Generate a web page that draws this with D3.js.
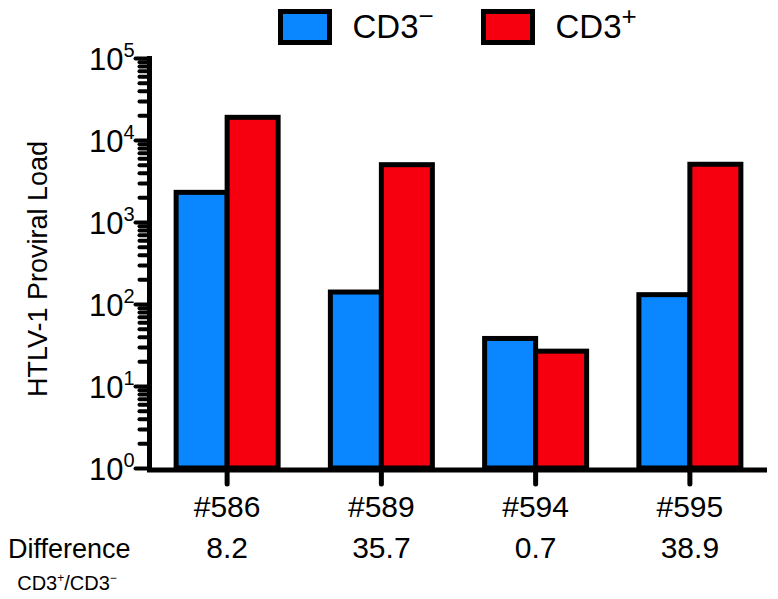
<!DOCTYPE html>
<html>
<head>
<meta charset="utf-8">
<script src="https://cdn.jsdelivr.net/npm/d3@7"></script>
<style>
  body { margin: 0; background: #fff; }
  svg text { font-family: "Liberation Sans", Arial, Helvetica, sans-serif; fill: #000; }
</style>
</head>
<body>
<div id="chart"></div>
<script>
////////////////////////////// DATA ////////////////////////////////////

const samples = ["#586", "#589", "#594", "#595"];
const cd3Neg = [2300, 140, 38, 130];
const cd3Pos = [18900, 5000, 26.6, 5060];
const differences = ["8.2", "35.7", "0.7", "38.9"];
const majorTicks = [1, 10, 100, 1000, 10000, 100000];

////////////////////////////// SET UP ////////////////////////////////////

const width = 778;
const height = 599;
const blue = "#0a86ff";
const red = "#f60010";
const stroke = 5;

const svg = d3
  .select("#chart")
  .append("svg")
  .attr("width", width)
  .attr("height", height);

// scales
const y = d3.scaleLog().domain([1, 100000]).range([468, 58]);
const x = d3.scaleBand().domain(samples).range([150, 767]);
const halfBar = 51;

// minor ticks 2..9 in each decade
const minorTicks = [];
majorTicks.slice(0, -1).forEach((m) => {
  for (let k = 2; k <= 9; k++) minorTicks.push(m * k);
});

////////////////////////////// BARS ////////////////////////////////////

const groups = svg
  .selectAll(".group")
  .data(samples)
  .join("g")
  .attr("class", "group");

groups
  .append("rect")
  .attr("x", (d) => x(d) + x.bandwidth() / 2 - halfBar)
  .attr("y", (d, i) => y(cd3Neg[i]))
  .attr("width", halfBar)
  .attr("height", (d, i) => y(1) - y(cd3Neg[i]))
  .attr("fill", blue)
  .attr("stroke", "#000")
  .attr("stroke-width", stroke);

groups
  .append("rect")
  .attr("x", (d) => x(d) + x.bandwidth() / 2)
  .attr("y", (d, i) => y(cd3Pos[i]))
  .attr("width", halfBar)
  .attr("height", (d, i) => y(1) - y(cd3Pos[i]))
  .attr("fill", red)
  .attr("stroke", "#000")
  .attr("stroke-width", stroke);

////////////////////////////// AXES ////////////////////////////////////

// minor ticks
svg
  .append("g")
  .attr("transform", "translate(149.5,0)")
  .call(d3.axisLeft(y).tickValues(minorTicks).tickSize(10).tickFormat(""))
  .call((g) => g.select(".domain").remove())
  .call((g) => g.selectAll("line").attr("stroke-width", 4).attr("stroke-linecap", "round"));

// major ticks with 10^n labels
const yAxis = svg
  .append("g")
  .attr("transform", "translate(149.5,0)")
  .call(d3.axisLeft(y).tickValues(majorTicks).tickSize(14).tickPadding(4).tickFormat(""))
  .call((g) => g.select(".domain").attr("stroke-width", stroke).attr("d", `M0,${y(100000) - 2}V${y(1)}`))
  .call((g) => g.selectAll("line").attr("stroke-width", 4).attr("stroke-linecap", "round"));

yAxis
  .selectAll(".tick text")
  .attr("x", -15)
  .attr("dy", "0.36em")
  .style("font-size", "31px")
  .each(function (d) {
    const t = d3.select(this);
    t.append("tspan").text("10");
    t.append("tspan")
      .text(Math.round(Math.log10(d)))
      .style("font-size", "20px")
      .attr("dy", "-13");
  });

// x axis
svg
  .append("g")
  .attr("transform", `translate(0,${y(1) + 2})`)
  .call(d3.axisBottom(x).tickSize(14).tickPadding(12).tickSizeOuter(0))
  .call((g) => g.select(".domain").attr("stroke-width", stroke).attr("d", "M147,0H767"))
  .call((g) => g.selectAll(".tick line").attr("stroke-width", 5).attr("stroke-linecap", "round"))
  .call((g) => g.selectAll(".tick text").style("font-size", "30px"));

// y axis title
svg
  .append("text")
  .attr("transform", `translate(47,${(y(1) + y(100000)) / 2 + 6}) rotate(-90)`)
  .attr("text-anchor", "middle")
  .style("font-size", "27px")
  .text("HTLV-1 Proviral Load");

////////////////////////////// DIFFERENCE ROW ////////////////////////////////////

svg
  .append("text")
  .attr("x", 8)
  .attr("y", 558)
  .style("font-size", "27px")
  .text("Difference");

const ratioLabel = svg
  .append("text")
  .attr("x", 67)
  .attr("y", 590)
  .attr("text-anchor", "middle")
  .style("font-size", "20px");
ratioLabel.append("tspan").text("CD3");
ratioLabel.append("tspan").text("+").style("font-size", "12px").attr("dy", -8);
ratioLabel.append("tspan").text("/CD3").attr("dy", 8);
ratioLabel.append("tspan").text("−").style("font-size", "12px").attr("dy", -8);

svg
  .selectAll(".diff")
  .data(samples)
  .join("text")
  .attr("class", "diff")
  .attr("x", (d) => x(d) + x.bandwidth() / 2)
  .attr("y", 558)
  .attr("text-anchor", "middle")
  .style("font-size", "30px")
  .text((d, i) => differences[i]);

////////////////////////////// LEGEND ////////////////////////////////////

const legendItems = [
  { label: "CD3", sign: "−", color: blue, x: 280.5 },
  { label: "CD3", sign: "+", color: red, x: 483.5 },
];

const legend = svg
  .selectAll(".legend")
  .data(legendItems)
  .join("g")
  .attr("class", "legend")
  .attr("transform", (d) => `translate(${d.x},11.5)`);

legend
  .append("rect")
  .attr("width", 49)
  .attr("height", 31)
  .attr("fill", (d) => d.color)
  .attr("stroke", "#000")
  .attr("stroke-width", stroke);

const legendText = legend
  .append("text")
  .attr("x", 72)
  .attr("y", 26)
  .style("font-size", "33px");
legendText.append("tspan").text((d) => d.label);
legendText
  .append("tspan")
  .text((d) => d.sign)
  .style("font-size", "26px")
  .attr("dy", -13);
</script>
</body>
</html>
